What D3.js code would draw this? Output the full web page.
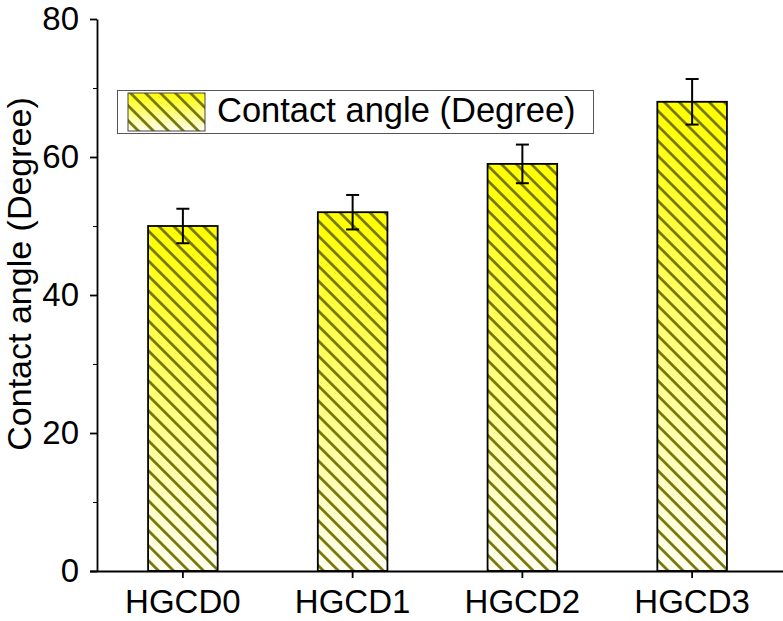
<!DOCTYPE html>
<html>
<head>
<meta charset="utf-8">
<script src="https://cdn.jsdelivr.net/npm/d3@7"></script>
<style>
  body { margin: 0; background: #fff; }
  text { font-family: "Liberation Sans", Arial, sans-serif; }
</style>
</head>
<body>
<div id="chart"></div>
<script>
const categories = ["HGCD0", "HGCD1", "HGCD2", "HGCD3"];
const angles = [50, 52, 59, 68];
const angleErrors = [2.5, 2.5, 2.8, 3.3];
const yTicks = [0, 20, 40, 60, 80];
const yMinorTicks = [10, 30, 50, 70];

var width = 783,
    height = 621;

var svg = d3.select("#chart")
  .append("svg")
    .attr("width", width)
    .attr("height", height);

var x = d3.scaleBand()
  .domain(categories)
  .range([98, 777])
  .paddingInner(0.59)
  .paddingOuter(0.295);

var y = d3.scaleLinear()
  .domain([0, 80])
  .range([571, 19]);

// gradient + hatch
var defs = svg.append("defs");
var grad = defs.append("linearGradient")
    .attr("id", "barGrad")
    .attr("x1", 0).attr("y1", 0).attr("x2", 0).attr("y2", 1);
grad.append("stop").attr("offset", "0%").attr("stop-color", "#ffff00");
grad.append("stop").attr("offset", "100%").attr("stop-color", "#fffff2");

var hatch = defs.append("pattern")
    .attr("id", "hatch")
    .attr("patternUnits", "userSpaceOnUse")
    .attr("width", 10.6)
    .attr("height", 10.6)
    .attr("patternTransform", "rotate(-45)");
hatch.append("line")
    .attr("x1", 5.3).attr("y1", 0).attr("x2", 5.3).attr("y2", 10.6)
    .attr("stroke", "#6e6e00")
    .attr("stroke-width", 2.6);

// bars
var bars = svg.selectAll(".bar")
  .data(categories)
  .enter().append("g")
    .attr("class", "bar");

bars.append("rect")
    .attr("x", d => x(d))
    .attr("y", (d, i) => y(angles[i]))
    .attr("width", x.bandwidth())
    .attr("height", (d, i) => y(0) - y(angles[i]))
    .attr("fill", "url(#barGrad)");

bars.append("rect")
    .attr("x", d => x(d))
    .attr("y", (d, i) => y(angles[i]))
    .attr("width", x.bandwidth())
    .attr("height", (d, i) => y(0) - y(angles[i]))
    .attr("fill", "url(#hatch)")
    .attr("stroke", "#000")
    .attr("stroke-width", 1.8);

// error bars
var err = svg.selectAll(".err")
  .data(categories)
  .enter().append("g")
    .attr("class", "err")
    .attr("stroke", "#000")
    .attr("stroke-width", 2);

err.append("line")
    .attr("x1", d => x(d) + x.bandwidth() / 2)
    .attr("x2", d => x(d) + x.bandwidth() / 2)
    .attr("y1", (d, i) => y(angles[i] + angleErrors[i]))
    .attr("y2", (d, i) => y(angles[i] - angleErrors[i]));
err.append("line")
    .attr("x1", d => x(d) + x.bandwidth() / 2 - 6.5)
    .attr("x2", d => x(d) + x.bandwidth() / 2 + 6.5)
    .attr("y1", (d, i) => y(angles[i] + angleErrors[i]))
    .attr("y2", (d, i) => y(angles[i] + angleErrors[i]));
err.append("line")
    .attr("x1", d => x(d) + x.bandwidth() / 2 - 6.5)
    .attr("x2", d => x(d) + x.bandwidth() / 2 + 6.5)
    .attr("y1", (d, i) => y(angles[i] - angleErrors[i]))
    .attr("y2", (d, i) => y(angles[i] - angleErrors[i]));

// y axis
var yAxis = svg.append("g")
    .attr("transform", "translate(97,0)")
    .call(d3.axisLeft(y).tickValues(yTicks).tickSize(7).tickPadding(11).tickSizeOuter(0));
svg.append("g")
    .attr("transform", "translate(97,0)")
    .call(d3.axisLeft(y).tickValues(yMinorTicks).tickSize(4).tickFormat("").tickSizeOuter(0))
    .select(".domain").remove();
yAxis.select(".domain").attr("stroke-width", 1.8);
yAxis.selectAll(".tick line").attr("stroke-width", 1.8);
yAxis.selectAll(".tick text")
    .attr("font-size", "33px")
    .attr("font-family", "'Liberation Sans', Arial, sans-serif")
    .attr("fill", "#000");

// x axis
var xAxis = svg.append("g")
    .attr("transform", "translate(0,571)")
    .call(d3.axisBottom(x).tickSize(7).tickPadding(12).tickSizeOuter(0));
xAxis.select(".domain").attr("d", "M90,0.5H783").attr("stroke-width", 1.8);
xAxis.selectAll(".tick line").attr("stroke-width", 1.8);
xAxis.selectAll(".tick text")
    .attr("font-size", "33px")
    .attr("font-family", "'Liberation Sans', Arial, sans-serif")
    .attr("fill", "#000");

// y title
svg.append("text")
    .attr("transform", "translate(31,274) rotate(-90)")
    .attr("text-anchor", "middle")
    .style("font-size", "34px")
    .text("Contact angle (Degree)");

// legend
var legend = svg.append("g");
legend.append("rect")
    .attr("x", 117.5).attr("y", 90.5)
    .attr("width", 476).attr("height", 43)
    .attr("fill", "#fff")
    .attr("stroke", "#555")
    .attr("stroke-width", 1);
legend.append("rect")
    .attr("x", 128).attr("y", 93)
    .attr("width", 77).attr("height", 38)
    .attr("fill", "url(#barGrad)");
legend.append("rect")
    .attr("x", 128).attr("y", 93)
    .attr("width", 77).attr("height", 38)
    .attr("fill", "url(#hatch)")
    .attr("stroke", "#444")
    .attr("stroke-width", 1);
legend.append("text")
    .attr("x", 217).attr("y", 122)
    .style("font-size", "34.5px")
    .text("Contact angle (Degree)");
</script>
</body>
</html>
